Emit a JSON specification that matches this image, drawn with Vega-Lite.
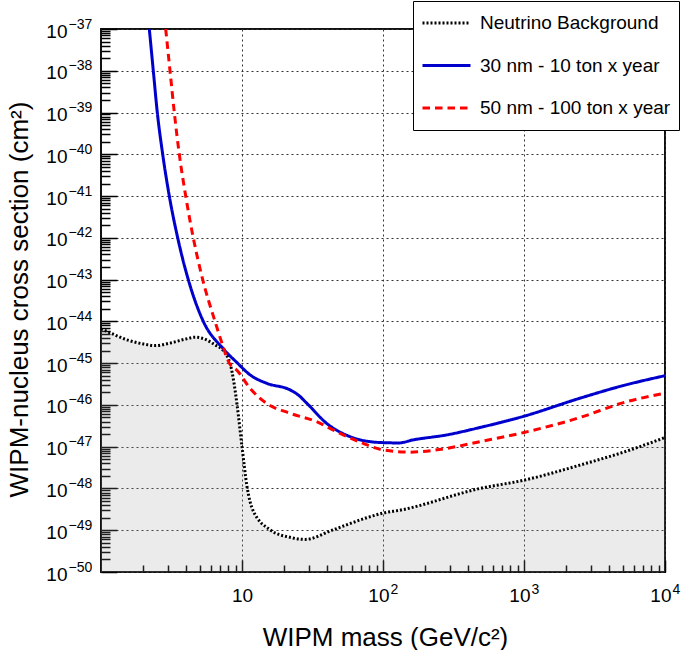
{
  "$schema": "https://vega.github.io/schema/vega-lite/v6.json",
  "width": 564,
  "height": 543,
  "autosize": {"type": "none"},
  "padding": {"left": 101, "top": 29, "right": 20, "bottom": 78},
  "background": "white",
  "config": {
    "font": "Liberation Sans",
    "view": {"stroke": "#111", "strokeWidth": 2},
    "axis": {"labelColor": "#000", "titleColor": "#000", "titleFontWeight": "normal", "domain": false, "labelOverlap": false, "labelFlush": false}
  },
  "data": {
    "values": [
      {"series": "Neutrino Background", "m": 1.0, "s": 6.61e-45},
      {"series": "Neutrino Background", "m": 1.12, "s": 5.62e-45},
      {"series": "Neutrino Background", "m": 1.55, "s": 3.55e-45},
      {"series": "Neutrino Background", "m": 2.0, "s": 2.88e-45},
      {"series": "Neutrino Background", "m": 2.41, "s": 2.63e-45},
      {"series": "Neutrino Background", "m": 3.17, "s": 3.09e-45},
      {"series": "Neutrino Background", "m": 4.0, "s": 3.8e-45},
      {"series": "Neutrino Background", "m": 4.64, "s": 4.17e-45},
      {"series": "Neutrino Background", "m": 5.5, "s": 3.72e-45},
      {"series": "Neutrino Background", "m": 6.43, "s": 2.75e-45},
      {"series": "Neutrino Background", "m": 7.34, "s": 2.04e-45},
      {"series": "Neutrino Background", "m": 7.9, "s": 1.41e-45},
      {"series": "Neutrino Background", "m": 8.22, "s": 1.0e-45},
      {"series": "Neutrino Background", "m": 8.8, "s": 3.16e-46},
      {"series": "Neutrino Background", "m": 9.23, "s": 1.0e-46},
      {"series": "Neutrino Background", "m": 10.0, "s": 1.0e-47},
      {"series": "Neutrino Background", "m": 10.86, "s": 1.1e-48},
      {"series": "Neutrino Background", "m": 11.95, "s": 3.02e-49},
      {"series": "Neutrino Background", "m": 16.0, "s": 1.0e-49},
      {"series": "Neutrino Background", "m": 21.9, "s": 6.76e-50},
      {"series": "Neutrino Background", "m": 28.0, "s": 6.03e-50},
      {"series": "Neutrino Background", "m": 44.2, "s": 1.02e-49},
      {"series": "Neutrino Background", "m": 77.0, "s": 2.0e-49},
      {"series": "Neutrino Background", "m": 100.0, "s": 2.57e-49},
      {"series": "Neutrino Background", "m": 132.0, "s": 3.02e-49},
      {"series": "Neutrino Background", "m": 487.0, "s": 1.0e-48},
      {"series": "Neutrino Background", "m": 1000.0, "s": 1.58e-48},
      {"series": "Neutrino Background", "m": 2497.0, "s": 3.63e-48},
      {"series": "Neutrino Background", "m": 5649.0, "s": 8.32e-48},
      {"series": "Neutrino Background", "m": 10000.0, "s": 1.66e-47},
      {"series": "30 nm - 10 ton x year", "m": 2.201, "s": 1e-37},
      {"series": "30 nm - 10 ton x year", "m": 2.349, "s": 1e-38},
      {"series": "30 nm - 10 ton x year", "m": 2.508, "s": 1e-39},
      {"series": "30 nm - 10 ton x year", "m": 2.739, "s": 1e-40},
      {"series": "30 nm - 10 ton x year", "m": 3.051, "s": 1e-41},
      {"series": "30 nm - 10 ton x year", "m": 3.499, "s": 1e-42},
      {"series": "30 nm - 10 ton x year", "m": 4.16, "s": 1e-43},
      {"series": "30 nm - 10 ton x year", "m": 5.316, "s": 1e-44},
      {"series": "30 nm - 10 ton x year", "m": 7.34, "s": 2.24e-45},
      {"series": "30 nm - 10 ton x year", "m": 9.3, "s": 1.0e-45},
      {"series": "30 nm - 10 ton x year", "m": 11.4, "s": 5.25e-46},
      {"series": "30 nm - 10 ton x year", "m": 14.9, "s": 3.31e-46},
      {"series": "30 nm - 10 ton x year", "m": 21.9, "s": 2.29e-46},
      {"series": "30 nm - 10 ton x year", "m": 25.0, "s": 1.74e-46},
      {"series": "30 nm - 10 ton x year", "m": 28.8, "s": 1.1e-46},
      {"series": "30 nm - 10 ton x year", "m": 39.8, "s": 3.63e-47},
      {"series": "30 nm - 10 ton x year", "m": 58.4, "s": 1.74e-47},
      {"series": "30 nm - 10 ton x year", "m": 95.0, "s": 1.26e-47},
      {"series": "30 nm - 10 ton x year", "m": 130.0, "s": 1.23e-47},
      {"series": "30 nm - 10 ton x year", "m": 163.0, "s": 1.45e-47},
      {"series": "30 nm - 10 ton x year", "m": 282.0, "s": 1.91e-47},
      {"series": "30 nm - 10 ton x year", "m": 487.0, "s": 2.88e-47},
      {"series": "30 nm - 10 ton x year", "m": 1000.0, "s": 5.37e-47},
      {"series": "30 nm - 10 ton x year", "m": 2497.0, "s": 1.45e-46},
      {"series": "30 nm - 10 ton x year", "m": 5000.0, "s": 2.88e-46},
      {"series": "30 nm - 10 ton x year", "m": 10000.0, "s": 5.01e-46},
      {"series": "50 nm - 100 ton x year", "m": 2.876, "s": 1e-37},
      {"series": "50 nm - 100 ton x year", "m": 3.086, "s": 1e-38},
      {"series": "50 nm - 100 ton x year", "m": 3.311, "s": 1e-39},
      {"series": "50 nm - 100 ton x year", "m": 3.592, "s": 1e-40},
      {"series": "50 nm - 100 ton x year", "m": 3.988, "s": 1e-41},
      {"series": "50 nm - 100 ton x year", "m": 4.514, "s": 1e-42},
      {"series": "50 nm - 100 ton x year", "m": 5.264, "s": 1e-43},
      {"series": "50 nm - 100 ton x year", "m": 6.435, "s": 1e-44},
      {"series": "50 nm - 100 ton x year", "m": 7.34, "s": 2.51e-45},
      {"series": "50 nm - 100 ton x year", "m": 8.126, "s": 1.0e-45},
      {"series": "50 nm - 100 ton x year", "m": 9.27, "s": 6.61e-46},
      {"series": "50 nm - 100 ton x year", "m": 11.4, "s": 2.51e-46},
      {"series": "50 nm - 100 ton x year", "m": 14.9, "s": 1.1e-46},
      {"series": "50 nm - 100 ton x year", "m": 21.9, "s": 6.31e-47},
      {"series": "50 nm - 100 ton x year", "m": 33.8, "s": 3.98e-47},
      {"series": "50 nm - 100 ton x year", "m": 46.8, "s": 2.29e-47},
      {"series": "50 nm - 100 ton x year", "m": 72.4, "s": 1.2e-47},
      {"series": "50 nm - 100 ton x year", "m": 95.0, "s": 8.71e-48},
      {"series": "50 nm - 100 ton x year", "m": 155.0, "s": 7.41e-48},
      {"series": "50 nm - 100 ton x year", "m": 282.0, "s": 9.12e-48},
      {"series": "50 nm - 100 ton x year", "m": 487.0, "s": 1.32e-47},
      {"series": "50 nm - 100 ton x year", "m": 1000.0, "s": 2.19e-47},
      {"series": "50 nm - 100 ton x year", "m": 2497.0, "s": 5.01e-47},
      {"series": "50 nm - 100 ton x year", "m": 5000.0, "s": 1.12e-46},
      {"series": "50 nm - 100 ton x year", "m": 10000.0, "s": 1.91e-46}
    ]
  },
  "resolve": {"axis": {"x": "independent", "y": "independent"}},
  "layer": [
    {
      "transform": [{"filter": "datum.series === 'Neutrino Background'"}],
      "mark": {"type": "area", "fill": "#999", "fillOpacity": 0.2, "clip": true, "interpolate": "monotone"},
      "encoding": {
        "x": {
          "field": "m", "type": "quantitative",
          "scale": {"type": "log", "domain": [1, 10000], "nice": false},
          "axis": {
            "orient": "bottom",
            "title": "WIPM mass (GeV/c²)",
            "titleFontSize": 26,
            "titleX": 284, "titleY": 85, "titleBaseline": "alphabetic", "titleAlign": "center",
            "values": [10, 100, 1000, 10000],
            "labelExpr": "'10'",
            "labelFontSize": 19,
            "labelBaseline": "top",
            "labelAlign": {"condition": {"test": "datum.value < 50", "value": "center"}, "value": "right"},
            "labelOffset": {"condition": {"test": "datum.value < 50", "value": 0}, "value": 6},
            "labelPadding": 14,
            "offset": -12,
            "tickSize": 12,
            "tickColor": "black",
            "tickWidth": 1.5,
            "grid": true,
            "gridColor": "#333",
            "gridDash": [2, 3],
            "gridWidth": 1
          }
        },
        "y": {
          "field": "s", "type": "quantitative",
          "scale": {"type": "log", "domain": [1e-50, 1e-37], "nice": false},
          "axis": {
            "orient": "left",
            "title": "WIPM-nucleus cross section (cm²)",
            "titleFontSize": 26,
            "titleX": -98, "titleY": 270, "titleBaseline": "middle", "titleAlign": "center", "titleAngle": -90,
            "values": [1e-50, 1e-49, 1e-48, 1e-47, 1e-46, 1e-45, 1e-44, 1e-43, 1e-42, 1e-41, 1e-40, 1e-39, 1e-38, 1e-37],
            "labelExpr": "'10'",
            "labelFontSize": 19,
            "labelAlign": "right",
            "labelOffset": 2,
            "labelPadding": 34,
            "offset": -16,
            "tickSize": 16,
            "tickColor": "black",
            "tickWidth": 1.5,
            "grid": true,
            "gridColor": "#333",
            "gridDash": [2, 3],
            "gridWidth": 1
          }
        },
        "y2": {"datum": 1e-50}
      }
    },
    {
      "transform": [{"filter": "datum.series === 'Neutrino Background'"}],
      "mark": {"type": "line", "strokeWidth": 3, "clip": true, "interpolate": "monotone"},
      "encoding": {
        "x": {
          "field": "m", "type": "quantitative",
          "axis": {
            "orient": "bottom",
            "title": null,
            "values": [100, 1000, 10000],
            "labelExpr": "'' + round(log(datum.value)/LN10)",
            "labelFontSize": 14,
            "labelBaseline": "top",
            "labelAlign": "left",
            "labelOffset": 7,
            "labelPadding": 10,
            "ticks": false,
            "grid": false
          }
        },
        "y": {
          "field": "s", "type": "quantitative",
          "axis": {
            "orient": "left",
            "title": null,
            "values": [1e-50, 1e-49, 1e-48, 1e-47, 1e-46, 1e-45, 1e-44, 1e-43, 1e-42, 1e-41, 1e-40, 1e-39, 1e-38, 1e-37],
            "labelExpr": "'−' + (-round(log(datum.value)/LN10))",
            "labelFontSize": 14,
            "labelAlign": "left",
            "labelOffset": -5,
            "labelPadding": 33,
            "ticks": false,
            "grid": false
          }
        },
        "color": {
          "field": "series", "type": "nominal",
          "scale": {"domain": ["Neutrino Background", "30 nm - 10 ton x year", "50 nm - 100 ton x year"], "range": ["#000000", "#0000cc", "#ff0000"]},
          "legend": {
            "title": null,
            "orient": "none",
            "legendX": 312,
            "legendY": -28,
            "direction": "vertical",
            "fillColor": "white",
            "strokeColor": "#000",
            "padding": 8,
            "clipHeight": 28,
            "symbolType": "stroke",
            "symbolSize": 2304,
            "symbolStrokeWidth": 3,
            "labelFontSize": 19,
            "labelColor": "#000",
            "labelOffset": 8,
            "labelLimit": 400,
            "rowPadding": 14.5
          }
        },
        "strokeDash": {
          "field": "series", "type": "nominal",
          "scale": {"domain": ["Neutrino Background", "30 nm - 10 ton x year", "50 nm - 100 ton x year"], "range": [[2, 2], [1, 0], [7.5, 5]]},
          "legend": null
        }
      }
    },
    {
      "transform": [{"filter": "datum.series !== 'Neutrino Background'"}],
      "mark": {"type": "line", "strokeWidth": 3, "clip": true, "interpolate": "monotone"},
      "encoding": {
        "x": {
          "field": "m", "type": "quantitative",
          "axis": {
            "orient": "bottom",
            "title": null,
            "values": [2,3,4,5,6,7,8,9,20,30,40,50,60,70,80,90,200,300,400,500,600,700,800,900,2000,3000,4000,5000,6000,7000,8000,9000],
            "labels": false,
            "tickSize": -7,
            "tickColor": "black",
            "tickWidth": 1.5,
            "grid": false
          }
        },
        "y": {
          "field": "s", "type": "quantitative",
          "axis": {
            "orient": "left",
            "title": null,
            "values": [2e-50,3e-50,4e-50,5e-50,6e-50,7e-50,8e-50,9e-50,
                       2e-49,3e-49,4e-49,5e-49,6e-49,7e-49,8e-49,9e-49,
                       2e-48,3e-48,4e-48,5e-48,6e-48,7e-48,8e-48,9e-48,
                       2e-47,3e-47,4e-47,5e-47,6e-47,7e-47,8e-47,9e-47,
                       2e-46,3e-46,4e-46,5e-46,6e-46,7e-46,8e-46,9e-46,
                       2e-45,3e-45,4e-45,5e-45,6e-45,7e-45,8e-45,9e-45,
                       2e-44,3e-44,4e-44,5e-44,6e-44,7e-44,8e-44,9e-44,
                       2e-43,3e-43,4e-43,5e-43,6e-43,7e-43,8e-43,9e-43,
                       2e-42,3e-42,4e-42,5e-42,6e-42,7e-42,8e-42,9e-42,
                       2e-41,3e-41,4e-41,5e-41,6e-41,7e-41,8e-41,9e-41,
                       2e-40,3e-40,4e-40,5e-40,6e-40,7e-40,8e-40,9e-40,
                       2e-39,3e-39,4e-39,5e-39,6e-39,7e-39,8e-39,9e-39,
                       2e-38,3e-38,4e-38,5e-38,6e-38,7e-38,8e-38,9e-38],
            "labels": false,
            "tickSize": -9,
            "tickColor": "black",
            "tickWidth": 1.5,
            "grid": false
          }
        },
        "color": {"field": "series", "type": "nominal"},
        "strokeDash": {"field": "series", "type": "nominal", "legend": null}
      }
    }
  ]
}
